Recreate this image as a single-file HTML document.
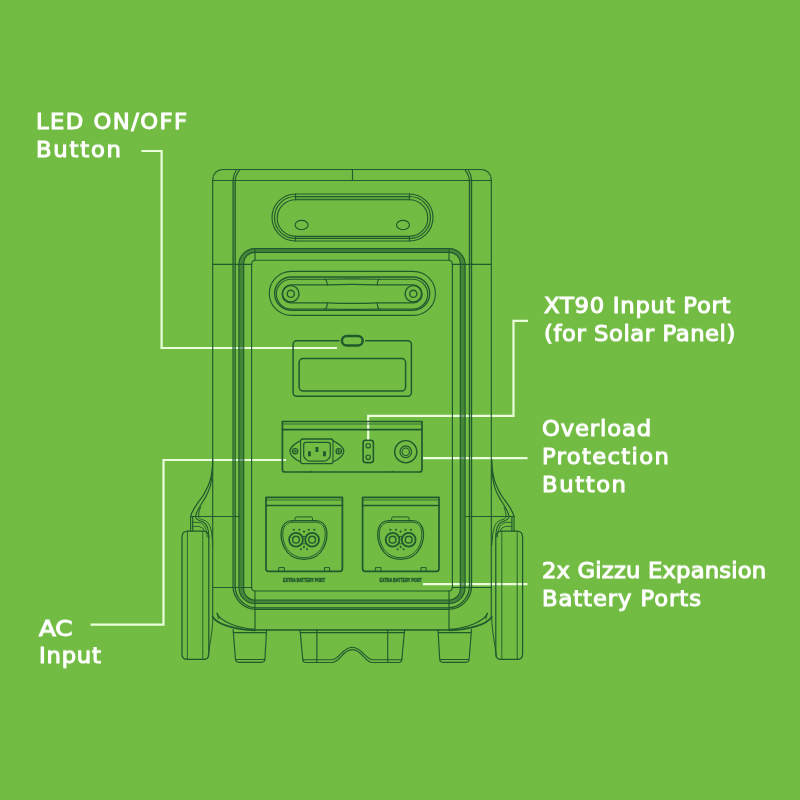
<!DOCTYPE html>
<html lang="en">
<head>
<meta charset="utf-8">
<title>Gizzu Power Station - Rear Ports</title>
<style>
html,body{margin:0;padding:0;background:#72bc43;}
body{width:800px;height:800px;overflow:hidden;position:relative;font-family:"Liberation Sans","DejaVu Sans",sans-serif;}
#art{position:absolute;left:0;top:0;width:800px;height:800px;display:block;}
.lbl{position:absolute;display:block;color:#fff;font-family:"DejaVu Sans","Liberation Sans",sans-serif;font-size:22.7px;line-height:normal;white-space:nowrap;font-weight:400;-webkit-text-stroke:1.1px #fff;will-change:transform;}
</style>
</head>
<body>
<svg id="art" width="800" height="800" viewBox="0 0 800 800">
<rect width="800" height="800" fill="#72bc43"/>
<g id="callouts" fill="none" stroke="#eaffdc" stroke-width="2.2" stroke-linecap="butt" stroke-linejoin="miter">
<path d="M141.5,151 H161.6 V348 H337"/>
<path d="M90.5,624.7 H163.5 V460 H286"/>
<path d="M528,320.9 H513.5 V415.9 H368.2 V440"/>
<path d="M423,458.1 H527.5"/>
<path d="M423,584.2 H527.5"/>

</g>
<g id="device" fill="none" stroke="#1f5a2e" stroke-width="1.15" stroke-linecap="round" stroke-linejoin="round">
<!-- outer shell -->
<path d="M212.7,617 V179.5 A10,10 0 0 1 222.7,169.5 H481.3 A10,10 0 0 1 491.3,179.5 V617"/>
<path d="M212.7,180.5 H491.3"/>
<path d="M352.5,169.5 V180.5"/>
<!-- side double ribs (wrap round the bottom) -->
<path d="M233,180.5 V586 A23.5,23.5 0 0 0 256.5,609.5 H448.1 A23.5,23.5 0 0 0 471.6,586 V180.5 H469.4 V586 A21.8,21.8 0 0 1 447.6,607.8 H257 A21.8,21.8 0 0 1 235.2,586 V180.5 Z" fill="#1f5a2e" fill-opacity="0.3" stroke="none"/>
<path d="M233,180.5 V586 A23.5,23.5 0 0 0 256.5,609.5 H448.1 A23.5,23.5 0 0 0 471.6,586 V180.5 M235.2,180.5 V586 A21.8,21.8 0 0 0 257,607.8 H447.6 A21.8,21.8 0 0 0 469.4,586 V180.5"/>
<path d="M233,180.5 C233,176 234.4,173 236.4,169.8 M235.2,180.5 C235.2,176 237.4,173 239.6,169.8"/>
<path d="M471.6,180.5 C471.6,176 470.2,173 468.2,169.8 M469.4,180.5 C469.4,176 467.2,173 465,169.8"/>
<!-- seams -->
<path d="M212.7,264.4 H251.6 M491.3,264.4 H452.4"/>
<path d="M212.7,587.5 H251.6 M491.3,587.5 H452.4"/>
<!-- top handle slot -->
<path d="M295.5,194 H409.5 A23.5,23.5 0 0 1 409.5,241 H295.5 A23.5,23.5 0 0 1 295.5,194 Z"/>
<path d="M295.5,196.5 H409.5 A21,21 0 0 1 409.5,238.5 H295.5 A21,21 0 0 1 295.5,196.5 Z"/>
<path d="M295.5,199.7 H409.5 A18.3,18.3 0 0 1 409.5,236.3 H295.5 A18.3,18.3 0 0 1 295.5,199.7 Z"/>
<path d="M295.5,194 V199.7 M295.5,236.3 V241 M409.5,194 V199.7 M409.5,236.3 V241"/>
<path d="M295.5,196.5 H409.5 V199.7 H295.5 Z M295.5,236.3 H409.5 V238.5 H295.5 Z" fill="#1f5a2e" fill-opacity="0.3" stroke="none"/>
<ellipse cx="301.6" cy="225" rx="6.5" ry="4.7"/>
<ellipse cx="403" cy="225" rx="6.5" ry="4.7"/>
<!-- inner panel band -->
<path d="M254.9,248.6 H449.1 A16,16 0 0 1 465.1,264.6 V587.5 A16,16 0 0 1 449.1,603.5 H254.9 A16,16 0 0 1 238.9,587.5 V264.6 A16,16 0 0 1 254.9,248.6 Z M254.9,252.4 H449.1 A11.2,11.2 0 0 1 460.3,263.6 V588.8 A11.2,11.2 0 0 1 449.1,600 H254.9 A11.2,11.2 0 0 1 243.7,588.8 V263.6 A11.2,11.2 0 0 1 254.9,252.4 Z" fill="#1f5a2e" fill-opacity="0.55" fill-rule="evenodd"/>
<path d="M251.6,587.5 V264.4 Q251.8,260.4 255,260.25 H449 Q452.2,260.4 452.4,264.4 V587.5 Q452.2,590.8 449,591 H255 Q251.8,590.8 251.6,587.5 Z"/>
<path d="M255,250 V260.25 M449,250 V260.25 M255,591 V630 M449,591 V630"/>
<!-- second handle -->
<path d="M291.3,271.4 H413.4 A22,22 0 0 1 413.4,315.4 H291.3 A22,22 0 0 1 291.3,271.4 Z"/>
<path d="M291.2,277 H413.1 A16.6,16.6 0 0 1 413.1,310.2 H291.2 A16.6,16.6 0 0 1 291.2,277 Z" stroke-width="1.4"/>
<path d="M291.2,279.2 H324.6 Q352,278.4 379.4,279.2 H412.8 A14.9,14.9 0 0 1 412.8,309 H379.4 Q352,309.8 324.6,309 H291.2 A14.9,14.9 0 0 1 291.2,279.2 Z"/>
<path d="M291,284.9 H327.4 Q352,283.8 377.2,284.9 H413.2 A9,9 0 0 1 413.2,302.9 H377.2 Q352,304 327.4,302.9 H291 A9,9 0 0 1 291,284.9 Z"/>
<path d="M324.6,279.2 Q327,279.6 327.4,284.9 M379.4,279.2 Q377.6,279.6 377.2,284.9 M324.6,309 Q327,308.6 327.4,302.9 M379.4,309 Q377.6,308.6 377.2,302.9"/>
<circle cx="290.8" cy="293.8" r="8.2" stroke-width="1.4"/><circle cx="290.8" cy="293.8" r="3.6" stroke-width="1.4"/>
<circle cx="413.3" cy="293.8" r="8.2" stroke-width="1.4"/><circle cx="413.3" cy="293.8" r="3.6" stroke-width="1.4"/>
<!-- display -->
<rect x="293.1" y="340.7" width="118.3" height="55.5" rx="3.6" stroke-width="1.5"/>
<rect x="299.1" y="358.5" width="106.5" height="32.6" rx="4" stroke-width="1.5"/>
<rect x="341.9" y="336" width="20.8" height="9.6" rx="4.8" fill="#72bc43" stroke="#72bc43" stroke-width="5"/><rect x="341.9" y="336" width="20.8" height="9.6" rx="4.8" fill="#72bc43" stroke-width="2.5"/>
<!-- AC / XT90 / overload panel -->
<path d="M282.4,421.5 H422 V469.4 Q422,472 419.4,472 H285 Q282.4,472 282.4,469.4 Z" stroke-width="1.7"/>
<path d="M282.4,424 H422" stroke-width="0.8"/>
<path d="M282.4,429.6 H422" stroke-width="1.6"/>
<path d="M309,472 q1.5,-2 3,0 M391,472 q1.5,-2 3,0" stroke-width="0.9"/>
<!-- AC inlet -->
<path d="M300.6,440.6 Q300.8,439 302.6,439 H331 Q332.8,439 333,440.6 C338.4,443.4 343.8,447 343.8,451.4 C343.8,455.8 338.4,459.2 333,462 Q332.8,463.6 331,463.6 H302.6 Q300.8,463.6 300.6,462 C295.2,459.2 289.9,455.8 289.9,451.4 C289.9,447 295.2,443.4 300.6,440.6 Z" stroke-width="1.3"/>
<path d="M303.7,444.6 Q303.7,442.4 305.9,442.4 H328.1 Q330.3,442.4 330.3,444.6 V455.4 Q330.3,457 329,458.2 L327.6,459.6 Q326.2,461 324.4,461 H309.6 Q307.8,461 306.4,459.6 L305,458.2 Q303.7,457 303.7,455.4 Z" stroke-width="1.25"/>
<path d="M300.6,440.6 V462 M333,440.6 V462" stroke-width="1.1"/>
<rect x="308" y="451.2" width="2.9" height="5.1" rx="0.4" fill="#1f5a2e" stroke="none"/>
<rect x="315.5" y="446.9" width="2.9" height="5.1" rx="0.4" fill="#1f5a2e" stroke="none"/>
<rect x="323" y="451.2" width="2.9" height="5.1" rx="0.4" fill="#1f5a2e" stroke="none"/>
<circle cx="295.1" cy="451.2" r="2.7" stroke-width="1.15"/><path d="M292.8,451.2 H297.4 M295.1,448.9 V453.5" stroke-width="0.9"/>
<circle cx="338.7" cy="451.2" r="2.7" stroke-width="1.15"/><path d="M336.4,451.2 H341 M338.7,448.9 V453.5" stroke-width="0.9"/>
<!-- XT90 -->
<rect x="363.1" y="440.2" width="10.3" height="22.4" rx="2.5" stroke-width="1.6"/>
<circle cx="368.2" cy="445.7" r="2.2" stroke-width="1.2"/><circle cx="368.2" cy="457.2" r="2.2" stroke-width="1.2"/>
<!-- overload button -->
<circle cx="405.75" cy="451.75" r="11.1" stroke-width="1.4"/>
<circle cx="405.75" cy="451.75" r="5.8" stroke-width="1.25"/>
<circle cx="405.75" cy="451.75" r="3.7" stroke-width="1.1"/>
<!-- expansion port L -->
<g id="xport">
<path d="M266,497.3 H342.4 V568.8 Q342.4,571.3 339.9,571.3 H268.5 Q266,571.3 266,568.8 Z" stroke-width="1.75"/>
<path d="M266,500 H342.4" stroke-width="0.8"/><path d="M266,505.5 H342.4" stroke-width="1.7"/>
<path d="M278.8,571.3 V567.6 H284.4 V571.3 M324.4,571.3 V567.6 H329.6 V571.3" stroke-width="1"/>
<path d="M295,520.8 V518.4 Q295,516.9 296.5,516.9 H311 Q312.5,516.9 312.5,518.4 V520.8" stroke-width="1"/>
<path d="M292,520.6 H316 C321.5,520.6 325.4,524.5 326.5,530 C327.6,536 326.4,542.5 323.5,548 C319.8,555 312.5,559.4 304,559.4 C295.5,559.4 288.2,555 284.5,548 C281.6,542.5 280.4,536 281.5,530 C282.6,524.5 286.5,520.6 292,520.6 Z" stroke-width="1.3"/>
<path d="M292.2,522.2 H315.8 C320.4,522.2 324,525.6 324.9,530.4 C325.9,536 324.8,541.8 322.1,547 C318.6,553.4 311.8,557.7 304,557.7 C296.2,557.7 289.4,553.4 285.9,547 C283.2,541.8 282.1,536 283.1,530.4 C284,525.6 287.6,522.2 292.2,522.2 Z" stroke-width="0.95"/>
<circle cx="296" cy="539.7" r="6.9" stroke-width="1.8"/><circle cx="296" cy="539.7" r="3.4" stroke-width="1.4"/>
<circle cx="312.1" cy="539.7" r="6.9" stroke-width="1.8"/><circle cx="312.1" cy="539.7" r="3.4" stroke-width="1.4"/>
<path d="M302,536.4 H306.4 M302,543.8 H306.4" stroke-width="0.9"/>
<g fill="#1f5a2e" stroke="none">
<circle cx="293.8" cy="529.8" r="1.05"/><circle cx="299.4" cy="529.8" r="1.05"/><circle cx="308.8" cy="529.8" r="1.05"/><circle cx="314.4" cy="529.8" r="1.05"/><circle cx="304" cy="531.6" r="1.1"/>
<circle cx="304" cy="546.9" r="1.05"/><circle cx="301" cy="549.2" r="1.05"/><circle cx="307" cy="549.2" r="1.05"/>
</g>
<text x="283" y="581.9" textLength="42" lengthAdjust="spacingAndGlyphs" font-family="Liberation Sans, DejaVu Sans, sans-serif" font-size="4.7" font-weight="700" fill="#1f5a2e" stroke="#1f5a2e" stroke-width="0.45">EXTRA BATTERY PORT</text>
</g>
<use href="#xport" x="96.6" y="0"/>
<!-- bottom edge + swooshes -->
<path d="M255,630 H449" stroke-width="1.5"/>
<path d="M212.7,617 C218,625 236,629.8 255,630.3 M491.7,617 C486.4,625 468.4,629.8 449.4,630.3" stroke-width="1.9"/>
<path d="M217,613.2 C220,621.5 238,628 255,629.4 M487.4,613.2 C484.4,621.5 466.4,628 449.4,629.4" stroke-width="1.1"/>
<path d="M217,613.2 L218.6,618.6 M487.4,613.2 L485.8,618.6" stroke-width="1.1"/>
<path d="M212.9,617 C212.6,632 209.4,646 208.2,656 M491.7,617 C492,632 495.2,646 496.4,656" stroke-width="1"/>
<!-- feet -->
<path d="M233.1,629.6 L235.5,659.5 Q235.9,662.3 238.7,662.3 H261.7 Q264.5,662.3 264.9,659.5 L266.6,629.6 M233.3,632.6 H266.4 M235.5,659.5 H264.9"/>
<path d="M471.5,629.6 L469.1,659.5 Q468.7,662.3 465.9,662.3 H442.9 Q440.1,662.3 439.7,659.5 L438,629.6 M471.3,632.6 H438.2 M469.1,659.5 H439.7"/>
<path d="M300,629.6 L302.8,659.7 Q303.1,662.5 305.9,662.5 H331.4 C340.4,662.5 342.4,649.6 352.3,649.6 C362.2,649.6 364.2,662.5 373.2,662.5 H398.7 Q401.5,662.5 401.8,659.7 L404.6,629.6"/>
<path d="M302.8,659.7 H332 C340,659.3 342.3,647.2 352.3,647.2 C362.3,647.2 364.6,659.3 372.6,659.7 H401.8"/>
<path d="M316.9,629.6 V662.5 M387.7,629.6 V662.5 M300.2,632.6 H404.4"/>
<!-- left bulge + wheel (mirrored for right) -->
<g id="sideL">
<path d="M212.7,459.5 C212.7,480 207.4,488 203.4,495 C198.4,503 192.1,509 190.6,516.5" stroke-width="1.25"/>
<path d="M212.6,467 C212.2,484 209,491 205.4,497.4 C201,505 196.6,510 195.5,516.5"/>
<path d="M200.6,507 C199.4,510 198.6,513 198.5,516.5 C199,519.4 203.4,519.4 206.6,521.6 C210.6,524.6 212,531 212.75,545" stroke-width="1"/>
<path d="M190.6,516.5 H239.3"/>
<path d="M190.6,516.5 V531.1 M192.7,516.5 V531.1"/>
<path d="M195.5,516.5 C195.8,520.2 200,520.6 203.4,522.2 C207.6,524.4 208.8,529 208.8,537"/>
<path d="M192.7,522.4 H198.4 C203.4,523 206.6,527 207.2,537" stroke-width="0.9"/>
<path d="M192.7,526.4 H199 Q203.4,527 204.6,531.1" stroke-width="0.9"/>
<path d="M208.8,537 V653.9 Q208.8,659.4 203.3,659.4 H187.5 Q182,659.4 182,653.9 V537.1 Q182,531.1 188,531.1 H202.8 Q208.8,531.1 208.8,537" stroke-width="1.25"/>
<path d="M187.4,531.1 V659.4 M202.8,531.1 V659.4" stroke-width="0.9"/>
</g>
<use href="#sideL" transform="translate(704.6,0) scale(-1,1)"/>

</g>

</svg>
<span class="lbl" id="t0" style="left:36.10px;top:108.03px;letter-spacing:1.444px;transform:scale(1,0.945);transform-origin:0 21.07px">LED ON/OFF</span>
<span class="lbl" id="t1" style="left:36.10px;top:136.03px;letter-spacing:1.800px;transform:scale(1,0.945);transform-origin:0 21.07px">Button</span>
<span class="lbl" id="t2" style="left:543.50px;top:291.63px;letter-spacing:0.750px;transform:scale(1,0.945);transform-origin:0 21.07px">XT90 Input Port</span>
<span class="lbl" id="t3" style="left:543.50px;top:319.68px;letter-spacing:0.562px;transform:scale(1,0.945);transform-origin:0 21.07px">(for Solar Panel)</span>
<span class="lbl" id="t4" style="left:541.50px;top:414.68px;letter-spacing:0.860px;transform:scale(1,0.945);transform-origin:0 21.07px">Overload</span>
<span class="lbl" id="t5" style="left:541.75px;top:443.18px;letter-spacing:1.333px;transform:scale(1,0.945);transform-origin:0 21.07px">Protection</span>
<span class="lbl" id="t6" style="left:541.75px;top:470.93px;letter-spacing:1.600px;transform:scale(1,0.945);transform-origin:0 21.07px">Button</span>
<span class="lbl" id="t7" style="left:541.50px;top:556.93px;letter-spacing:0.175px;transform:scale(1,0.945);transform-origin:0 21.07px">2x Gizzu Expansion</span>
<span class="lbl" id="t8" style="left:541.75px;top:585.18px;letter-spacing:0.917px;transform:scale(1,0.945);transform-origin:0 21.07px">Battery Ports</span>
<span class="lbl" id="t9" style="left:38.50px;top:614.58px;letter-spacing:-0.200px;transform:scale(1.09,0.945);transform-origin:0 21.07px">AC</span>
<span class="lbl" id="t10" style="left:39.10px;top:642.33px;letter-spacing:0.800px;transform:scale(1,0.945);transform-origin:0 21.07px">Input</span>
</body>
</html>
